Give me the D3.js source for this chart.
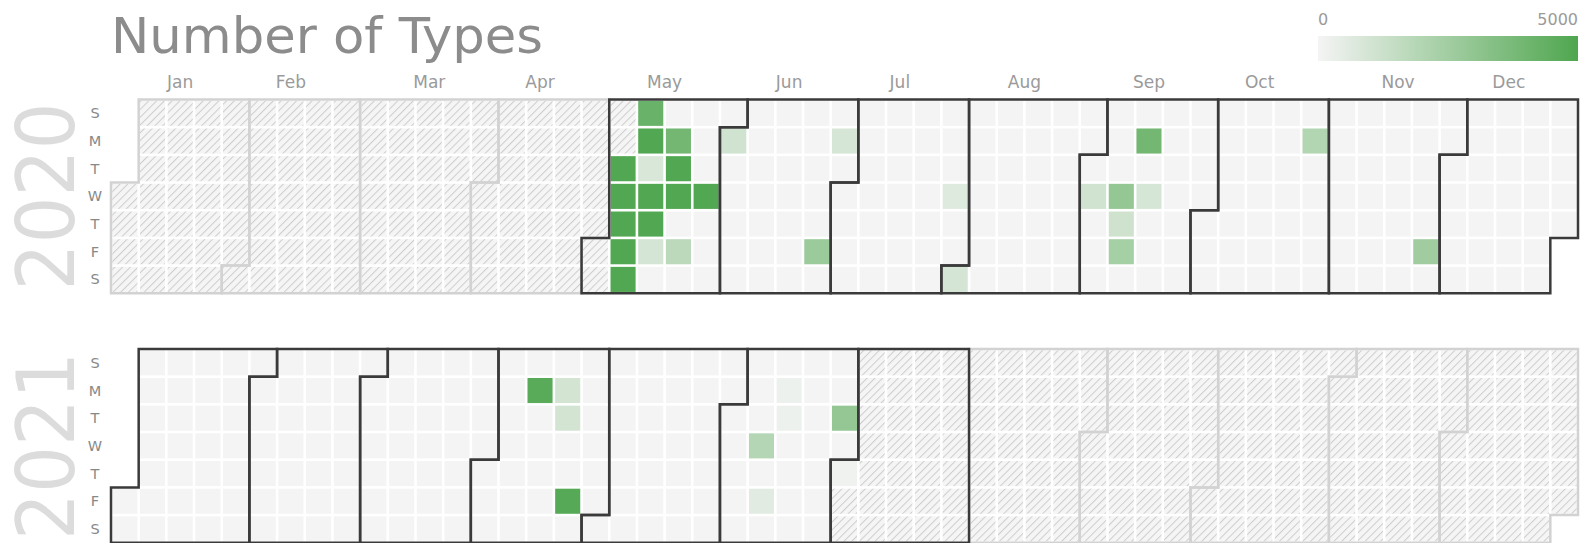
<!DOCTYPE html>
<html><head><meta charset="utf-8">
<script src="https://cdn.jsdelivr.net/npm/d3@7"></script>
<style>body{margin:0;background:#fff;} svg{display:block;font-family:"DejaVu Sans",sans-serif;}</style>
</head><body>
<svg id="chart" width="1584" height="543"></svg>
<script>
const title = "Number of Types";
const years = [2020, 2021];
const monthLabels = ["Jan","Feb","Mar","Apr","May","Jun","Jul","Aug","Sep","Oct","Nov","Dec"];
const dayLabels = ["S","M","T","W","T","F","S"];
const dataStart = "2020-05-05";
const dataEnd = "2021-07-01";
const activeMonthFirst = "2020-05-01";
const activeMonthLast = "2021-07-01";
const valueDates = ["2020-05-05","2020-05-06","2020-05-07","2020-05-08","2020-05-09","2020-05-10","2020-05-11","2020-05-12","2020-05-13","2020-05-14","2020-05-15","2020-05-18","2020-05-19","2020-05-20","2020-05-22","2020-05-27","2020-06-01","2020-06-26","2020-06-29","2020-07-29","2020-08-01","2020-09-02","2020-09-09","2020-09-10","2020-09-11","2020-09-14","2020-09-16","2020-10-26","2020-11-27","2021-04-12","2021-04-19","2021-04-20","2021-04-23","2021-06-09","2021-06-11","2021-06-14","2021-06-15","2021-06-29","2021-07-01"];
const values = [4900,4900,4900,4900,4900,4200,4900,850,4900,4900,950,3900,4900,4900,1700,4900,1100,2700,900,650,950,1100,2900,1150,2400,3900,900,2000,2550,4700,1000,1000,4800,1950,550,200,200,2900,150];
const legendDomain = [0, 5000];
const legendTicks = ["0", "5000"];

const svg = d3.select("#chart");
const parse = d3.utcParse("%Y-%m-%d");
const valueMap = new Map(valueDates.map((d, i) => [d, values[i]]));
const fmt = d3.utcFormat("%Y-%m-%d");
const start = parse(dataStart), end = parse(dataEnd);
const mFirst = parse(activeMonthFirst), mLast = parse(activeMonthLast);

const gridLeft = 111, gridRight = 1578;
const x = d3.scaleLinear().domain([0, 53]).range([gridLeft, gridRight]);
const cell = x(1) - x(0);
const yearTops = [99.5, 349];
const color = d3.scaleLinear().domain(legendDomain).range(["#f4f4f4", "#4fa64f"]).clamp(true);

// hatch pattern
const defs = svg.append("defs");
const pat = defs.append("pattern").attr("id", "hatch").attr("patternUnits", "userSpaceOnUse")
  .attr("width", 5.5).attr("height", 5.5).attr("patternTransform", "rotate(45)");
pat.append("rect").attr("width", 5.5).attr("height", 5.5).attr("fill", "#f5f5f5");
pat.append("line").attr("x1", 0).attr("y1", 0).attr("x2", 0).attr("y2", 5.5)
  .attr("stroke", "#cdcdcd").attr("stroke-width", 2);

const grad = defs.append("linearGradient").attr("id", "lg");
d3.range(0, 1.0001, 0.1).forEach(t => grad.append("stop").attr("offset", t)
  .attr("stop-color", color(legendDomain[0] + t * (legendDomain[1] - legendDomain[0]))));

// title
svg.append("text").attr("x", gridLeft).attr("y", 53).text(title)
  .attr("font-size", 50).attr("fill", "#8c8c8c")
  .attr("textLength", 432).attr("lengthAdjust", "spacingAndGlyphs");

// legend
const lx = d3.scaleLinear().domain(legendDomain).range([1318, 1578]);
svg.append("rect").attr("x", lx(legendDomain[0])).attr("y", 36)
  .attr("width", lx(legendDomain[1]) - lx(legendDomain[0])).attr("height", 25)
  .attr("fill", "url(#lg)");
svg.append("text").attr("x", lx(legendDomain[0])).attr("y", 25).text(legendTicks[0])
  .attr("font-size", 16).attr("fill", "#9a9a9a");
svg.append("text").attr("x", lx(legendDomain[1])).attr("y", 25).text(legendTicks[1])
  .attr("font-size", 16).attr("fill", "#9a9a9a").attr("text-anchor", "end");

const weekOf = d => d3.utcSunday.count(d3.utcYear(d), d);

years.forEach((yr, yi) => {
  const top = yearTops[yi];
  const y = d3.scaleLinear().domain([0, 7]).range([top, top + 7 * cell]);
  const g = svg.append("g");
  const days = d3.utcDays(new Date(Date.UTC(yr, 0, 1)), new Date(Date.UTC(yr + 1, 0, 1)));

  // year label
  const cy = (y(0) + y(7)) / 2;
  g.append("text").attr("transform", `translate(74,${cy}) rotate(-90)`)
    .attr("text-anchor", "middle").text(yr).attr("font-size", 80).attr("fill", "#dcdcdc")
    .attr("textLength", 188).attr("lengthAdjust", "spacingAndGlyphs");

  // day labels
  g.selectAll(".dl").data(dayLabels).join("text")
    .attr("x", 95).attr("y", (d, i) => y(i + 0.5) + 5).attr("text-anchor", "middle")
    .attr("font-size", 14.5).attr("fill", "#888").text(d => d);

  // cells
  const ins = 1.3;
  g.selectAll(".c").data(days).join("rect")
    .attr("x", d => x(weekOf(d)) + ins).attr("y", d => y(d.getUTCDay()) + ins)
    .attr("width", cell - 2 * ins).attr("height", cell - 2 * ins)
    .attr("fill", d => (d < start || d > end) ? "url(#hatch)" : color(valueMap.get(fmt(d)) || 0));

  // month labels only on first year
  const months = d3.utcMonths(new Date(Date.UTC(yr, 0, 1)), new Date(Date.UTC(yr + 1, 0, 1)));
  if (yi === 0) {
    g.selectAll(".ml").data(months).join("text")
      .attr("x", m => {
        const last = new Date(Date.UTC(m.getUTCFullYear(), m.getUTCMonth() + 1, 0));
        return (x(weekOf(m)) + x(weekOf(last) + 1)) / 2;
      })
      .attr("y", 88).attr("text-anchor", "middle").attr("font-size", 17).attr("fill", "#9a9a9a")
      .text(m => monthLabels[m.getUTCMonth()]);
  }

  // month outlines
  const monthPath = m => {
    const last = new Date(Date.UTC(m.getUTCFullYear(), m.getUTCMonth() + 1, 0));
    const w1 = weekOf(m), d1 = m.getUTCDay(), w2 = weekOf(last), d2 = last.getUTCDay();
    return `M${x(w1)},${y(d1)}H${x(w1 + 1)}V${y(0)}H${x(w2 + 1)}V${y(d2 + 1)}H${x(w2)}V${y(7)}H${x(w1)}Z`;
  };
  const isActive = m => m >= d3.utcMonth(mFirst) && m <= d3.utcMonth(mLast);
  g.selectAll(".mg").data(months.filter(m => !isActive(m))).join("path")
    .attr("d", monthPath).attr("fill", "none").attr("stroke", "#d2d2d2").attr("stroke-width", 2.5);
  g.selectAll(".md").data(months.filter(isActive)).join("path")
    .attr("d", monthPath).attr("fill", "none").attr("stroke", "#3a3a3a").attr("stroke-width", 2.5);
});
</script>
</body></html>
